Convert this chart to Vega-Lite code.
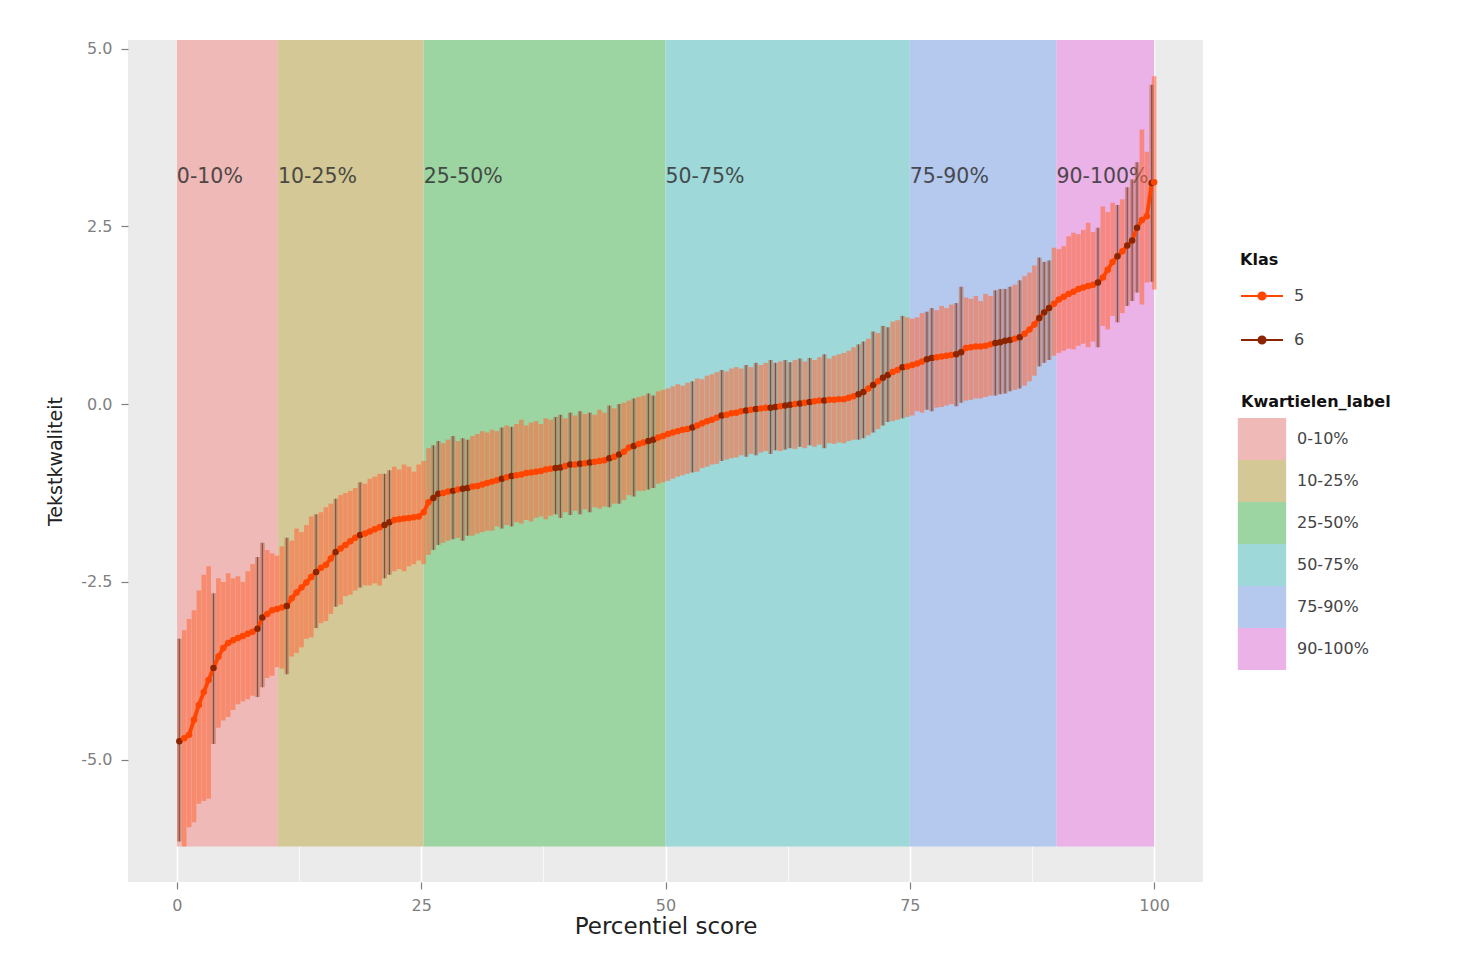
{
  "$schema": "https://vega.github.io/schema/vega-lite/v6.json",
  "width": 1075,
  "height": 842,
  "autosize": {"type": "none"},
  "padding": {"left": 128, "top": 40, "right": 260, "bottom": 73},
  "background": "white",
  "config": {
    "font": "DejaVu Sans",
    "view": {"fill": "#EBEBEB", "stroke": null}
  },
  "datasets": {
    "bands": [
      {"label": "0-10%", "s": 0, "e": 10.34},
      {"label": "10-25%", "s": 10.34, "e": 25.25},
      {"label": "25-50%", "s": 25.25, "e": 50},
      {"label": "50-75%", "s": 50, "e": 75},
      {"label": "75-90%", "s": 75, "e": 90},
      {"label": "90-100%", "s": 90, "e": 100}
    ],
    "pts": [
      {"p":0.25,"m":-4.74,"hi":-3.30,"lo":-6.15,"k":"6"},
      {"p":0.75,"m":-4.70,"hi":-3.18,"lo":-6.22,"k":"5"},
      {"p":1.25,"m":-4.65,"hi":-3.02,"lo":-5.95,"k":"5"},
      {"p":1.75,"m":-4.44,"hi":-2.90,"lo":-5.88,"k":"5"},
      {"p":2.25,"m":-4.23,"hi":-2.62,"lo":-5.62,"k":"5"},
      {"p":2.75,"m":-4.05,"hi":-2.40,"lo":-5.58,"k":"5"},
      {"p":3.25,"m":-3.88,"hi":-2.28,"lo":-5.55,"k":"5"},
      {"p":3.75,"m":-3.71,"hi":-2.66,"lo":-4.78,"k":"6"},
      {"p":4.25,"m":-3.55,"hi":-2.45,"lo":-4.55,"k":"5"},
      {"p":4.75,"m":-3.43,"hi":-2.50,"lo":-4.45,"k":"5"},
      {"p":5.25,"m":-3.36,"hi":-2.38,"lo":-4.40,"k":"5"},
      {"p":5.75,"m":-3.32,"hi":-2.45,"lo":-4.30,"k":"5"},
      {"p":6.25,"m":-3.29,"hi":-2.42,"lo":-4.22,"k":"5"},
      {"p":6.75,"m":-3.26,"hi":-2.50,"lo":-4.18,"k":"5"},
      {"p":7.25,"m":-3.23,"hi":-2.35,"lo":-4.15,"k":"5"},
      {"p":7.75,"m":-3.20,"hi":-2.25,"lo":-4.10,"k":"5"},
      {"p":8.25,"m":-3.16,"hi":-2.15,"lo":-4.12,"k":"6"},
      {"p":8.75,"m":-3.00,"hi":-1.95,"lo":-3.98,"k":"6"},
      {"p":9.25,"m":-2.95,"hi":-2.05,"lo":-3.85,"k":"5"},
      {"p":9.75,"m":-2.90,"hi":-2.10,"lo":-3.82,"k":"5"},
      {"p":10.25,"m":-2.88,"hi":-2.13,"lo":-3.70,"k":"5"},
      {"p":10.75,"m":-2.86,"hi":-2.00,"lo":-3.72,"k":"5"},
      {"p":11.25,"m":-2.84,"hi":-1.88,"lo":-3.80,"k":"6"},
      {"p":11.75,"m":-2.73,"hi":-1.92,"lo":-3.55,"k":"5"},
      {"p":12.25,"m":-2.65,"hi":-1.75,"lo":-3.50,"k":"5"},
      {"p":12.75,"m":-2.58,"hi":-1.80,"lo":-3.42,"k":"5"},
      {"p":13.25,"m":-2.51,"hi":-1.70,"lo":-3.30,"k":"5"},
      {"p":13.75,"m":-2.43,"hi":-1.58,"lo":-3.28,"k":"5"},
      {"p":14.25,"m":-2.36,"hi":-1.55,"lo":-3.15,"k":"6"},
      {"p":14.75,"m":-2.30,"hi":-1.52,"lo":-3.08,"k":"5"},
      {"p":15.25,"m":-2.26,"hi":-1.45,"lo":-3.05,"k":"5"},
      {"p":15.75,"m":-2.17,"hi":-1.40,"lo":-2.95,"k":"5"},
      {"p":16.25,"m":-2.08,"hi":-1.33,"lo":-2.85,"k":"6"},
      {"p":16.75,"m":-2.03,"hi":-1.28,"lo":-2.82,"k":"5"},
      {"p":17.25,"m":-1.98,"hi":-1.25,"lo":-2.70,"k":"5"},
      {"p":17.75,"m":-1.93,"hi":-1.22,"lo":-2.68,"k":"5"},
      {"p":18.25,"m":-1.88,"hi":-1.18,"lo":-2.62,"k":"5"},
      {"p":18.75,"m":-1.84,"hi":-1.10,"lo":-2.58,"k":"6"},
      {"p":19.25,"m":-1.82,"hi":-1.12,"lo":-2.55,"k":"5"},
      {"p":19.75,"m":-1.79,"hi":-1.05,"lo":-2.55,"k":"5"},
      {"p":20.25,"m":-1.76,"hi":-1.02,"lo":-2.52,"k":"5"},
      {"p":20.75,"m":-1.73,"hi":-0.98,"lo":-2.55,"k":"5"},
      {"p":21.25,"m":-1.70,"hi":-0.98,"lo":-2.45,"k":"6"},
      {"p":21.75,"m":-1.66,"hi":-0.93,"lo":-2.40,"k":"6"},
      {"p":22.25,"m":-1.63,"hi":-0.88,"lo":-2.35,"k":"5"},
      {"p":22.75,"m":-1.62,"hi":-0.92,"lo":-2.32,"k":"5"},
      {"p":23.25,"m":-1.61,"hi":-0.85,"lo":-2.35,"k":"5"},
      {"p":23.75,"m":-1.60,"hi":-0.88,"lo":-2.28,"k":"5"},
      {"p":24.25,"m":-1.59,"hi":-0.95,"lo":-2.25,"k":"5"},
      {"p":24.75,"m":-1.58,"hi":-0.85,"lo":-2.20,"k":"5"},
      {"p":25.25,"m":-1.52,"hi":-0.80,"lo":-2.25,"k":"5"},
      {"p":25.75,"m":-1.38,"hi":-0.62,"lo":-2.12,"k":"5"},
      {"p":26.25,"m":-1.32,"hi":-0.58,"lo":-2.05,"k":"6"},
      {"p":26.75,"m":-1.26,"hi":-0.52,"lo":-1.98,"k":"6"},
      {"p":27.25,"m":-1.25,"hi":-0.55,"lo":-1.95,"k":"5"},
      {"p":27.75,"m":-1.23,"hi":-0.50,"lo":-1.92,"k":"5"},
      {"p":28.25,"m":-1.22,"hi":-0.45,"lo":-1.90,"k":"6"},
      {"p":28.75,"m":-1.20,"hi":-0.52,"lo":-1.88,"k":"5"},
      {"p":29.25,"m":-1.19,"hi":-0.48,"lo":-1.92,"k":"6"},
      {"p":29.75,"m":-1.18,"hi":-0.50,"lo":-1.85,"k":"6"},
      {"p":30.25,"m":-1.16,"hi":-0.45,"lo":-1.85,"k":"5"},
      {"p":30.75,"m":-1.15,"hi":-0.42,"lo":-1.82,"k":"5"},
      {"p":31.25,"m":-1.13,"hi":-0.38,"lo":-1.80,"k":"5"},
      {"p":31.75,"m":-1.11,"hi":-0.40,"lo":-1.78,"k":"5"},
      {"p":32.25,"m":-1.09,"hi":-0.36,"lo":-1.78,"k":"5"},
      {"p":32.75,"m":-1.07,"hi":-0.38,"lo":-1.72,"k":"5"},
      {"p":33.25,"m":-1.05,"hi":-0.33,"lo":-1.75,"k":"6"},
      {"p":33.75,"m":-1.03,"hi":-0.30,"lo":-1.70,"k":"5"},
      {"p":34.25,"m":-1.01,"hi":-0.32,"lo":-1.72,"k":"6"},
      {"p":34.75,"m":-1.00,"hi":-0.28,"lo":-1.66,"k":"5"},
      {"p":35.25,"m":-0.99,"hi":-0.22,"lo":-1.68,"k":"5"},
      {"p":35.75,"m":-0.97,"hi":-0.30,"lo":-1.63,"k":"5"},
      {"p":36.25,"m":-0.96,"hi":-0.26,"lo":-1.65,"k":"5"},
      {"p":36.75,"m":-0.95,"hi":-0.24,"lo":-1.60,"k":"5"},
      {"p":37.25,"m":-0.94,"hi":-0.28,"lo":-1.58,"k":"5"},
      {"p":37.75,"m":-0.92,"hi":-0.20,"lo":-1.62,"k":"5"},
      {"p":38.25,"m":-0.91,"hi":-0.22,"lo":-1.57,"k":"5"},
      {"p":38.75,"m":-0.90,"hi":-0.18,"lo":-1.55,"k":"6"},
      {"p":39.25,"m":-0.89,"hi":-0.15,"lo":-1.60,"k":"6"},
      {"p":39.75,"m":-0.87,"hi":-0.20,"lo":-1.52,"k":"5"},
      {"p":40.25,"m":-0.85,"hi":-0.12,"lo":-1.56,"k":"6"},
      {"p":40.75,"m":-0.85,"hi":-0.16,"lo":-1.50,"k":"5"},
      {"p":41.25,"m":-0.84,"hi":-0.10,"lo":-1.55,"k":"6"},
      {"p":41.75,"m":-0.83,"hi":-0.14,"lo":-1.48,"k":"5"},
      {"p":42.25,"m":-0.82,"hi":-0.12,"lo":-1.52,"k":"6"},
      {"p":42.75,"m":-0.81,"hi":-0.15,"lo":-1.45,"k":"5"},
      {"p":43.25,"m":-0.80,"hi":-0.08,"lo":-1.47,"k":"5"},
      {"p":43.75,"m":-0.79,"hi":-0.12,"lo":-1.44,"k":"5"},
      {"p":44.25,"m":-0.76,"hi":-0.02,"lo":-1.45,"k":"6"},
      {"p":44.75,"m":-0.74,"hi":-0.06,"lo":-1.40,"k":"5"},
      {"p":45.25,"m":-0.71,"hi":0.00,"lo":-1.40,"k":"6"},
      {"p":45.75,"m":-0.67,"hi":0.02,"lo":-1.35,"k":"5"},
      {"p":46.25,"m":-0.61,"hi":0.05,"lo":-1.28,"k":"5"},
      {"p":46.75,"m":-0.59,"hi":0.08,"lo":-1.30,"k":"6"},
      {"p":47.25,"m":-0.56,"hi":0.10,"lo":-1.22,"k":"5"},
      {"p":47.75,"m":-0.54,"hi":0.12,"lo":-1.22,"k":"5"},
      {"p":48.25,"m":-0.52,"hi":0.15,"lo":-1.20,"k":"6"},
      {"p":48.75,"m":-0.50,"hi":0.12,"lo":-1.18,"k":"6"},
      {"p":49.25,"m":-0.47,"hi":0.18,"lo":-1.12,"k":"5"},
      {"p":49.75,"m":-0.45,"hi":0.20,"lo":-1.10,"k":"5"},
      {"p":50.25,"m":-0.42,"hi":0.22,"lo":-1.08,"k":"5"},
      {"p":50.75,"m":-0.40,"hi":0.25,"lo":-1.05,"k":"5"},
      {"p":51.25,"m":-0.38,"hi":0.28,"lo":-1.02,"k":"5"},
      {"p":51.75,"m":-0.36,"hi":0.26,"lo":-1.00,"k":"5"},
      {"p":52.25,"m":-0.35,"hi":0.30,"lo":-0.98,"k":"5"},
      {"p":52.75,"m":-0.33,"hi":0.32,"lo":-0.96,"k":"6"},
      {"p":53.25,"m":-0.30,"hi":0.36,"lo":-0.95,"k":"5"},
      {"p":53.75,"m":-0.27,"hi":0.35,"lo":-0.90,"k":"5"},
      {"p":54.25,"m":-0.24,"hi":0.40,"lo":-0.88,"k":"5"},
      {"p":54.75,"m":-0.22,"hi":0.42,"lo":-0.85,"k":"5"},
      {"p":55.25,"m":-0.19,"hi":0.45,"lo":-0.84,"k":"5"},
      {"p":55.75,"m":-0.16,"hi":0.48,"lo":-0.80,"k":"6"},
      {"p":56.25,"m":-0.15,"hi":0.46,"lo":-0.78,"k":"5"},
      {"p":56.75,"m":-0.13,"hi":0.50,"lo":-0.76,"k":"5"},
      {"p":57.25,"m":-0.12,"hi":0.52,"lo":-0.75,"k":"5"},
      {"p":57.75,"m":-0.10,"hi":0.50,"lo":-0.72,"k":"5"},
      {"p":58.25,"m":-0.09,"hi":0.55,"lo":-0.74,"k":"6"},
      {"p":58.75,"m":-0.08,"hi":0.52,"lo":-0.70,"k":"5"},
      {"p":59.25,"m":-0.07,"hi":0.58,"lo":-0.72,"k":"6"},
      {"p":59.75,"m":-0.06,"hi":0.55,"lo":-0.68,"k":"5"},
      {"p":60.25,"m":-0.05,"hi":0.58,"lo":-0.66,"k":"5"},
      {"p":60.75,"m":-0.05,"hi":0.62,"lo":-0.70,"k":"6"},
      {"p":61.25,"m":-0.04,"hi":0.58,"lo":-0.65,"k":"6"},
      {"p":61.75,"m":-0.03,"hi":0.60,"lo":-0.66,"k":"5"},
      {"p":62.25,"m":-0.02,"hi":0.62,"lo":-0.64,"k":"6"},
      {"p":62.75,"m":-0.01,"hi":0.59,"lo":-0.62,"k":"6"},
      {"p":63.25,"m":0.00,"hi":0.62,"lo":-0.63,"k":"5"},
      {"p":63.75,"m":0.01,"hi":0.64,"lo":-0.60,"k":"6"},
      {"p":64.25,"m":0.02,"hi":0.60,"lo":-0.62,"k":"5"},
      {"p":64.75,"m":0.03,"hi":0.65,"lo":-0.58,"k":"6"},
      {"p":65.25,"m":0.04,"hi":0.62,"lo":-0.60,"k":"5"},
      {"p":65.75,"m":0.05,"hi":0.66,"lo":-0.57,"k":"5"},
      {"p":66.25,"m":0.05,"hi":0.70,"lo":-0.62,"k":"6"},
      {"p":66.75,"m":0.06,"hi":0.64,"lo":-0.55,"k":"5"},
      {"p":67.25,"m":0.06,"hi":0.68,"lo":-0.56,"k":"5"},
      {"p":67.75,"m":0.07,"hi":0.70,"lo":-0.54,"k":"5"},
      {"p":68.25,"m":0.07,"hi":0.72,"lo":-0.55,"k":"5"},
      {"p":68.75,"m":0.09,"hi":0.75,"lo":-0.52,"k":"5"},
      {"p":69.25,"m":0.11,"hi":0.80,"lo":-0.50,"k":"5"},
      {"p":69.75,"m":0.14,"hi":0.84,"lo":-0.50,"k":"6"},
      {"p":70.25,"m":0.17,"hi":0.88,"lo":-0.48,"k":"6"},
      {"p":70.75,"m":0.22,"hi":0.92,"lo":-0.44,"k":"5"},
      {"p":71.25,"m":0.27,"hi":1.02,"lo":-0.40,"k":"6"},
      {"p":71.75,"m":0.32,"hi":1.00,"lo":-0.35,"k":"5"},
      {"p":72.25,"m":0.37,"hi":1.10,"lo":-0.30,"k":"6"},
      {"p":72.75,"m":0.41,"hi":1.08,"lo":-0.25,"k":"6"},
      {"p":73.25,"m":0.45,"hi":1.16,"lo":-0.24,"k":"5"},
      {"p":73.75,"m":0.48,"hi":1.18,"lo":-0.22,"k":"5"},
      {"p":74.25,"m":0.52,"hi":1.24,"lo":-0.20,"k":"6"},
      {"p":74.75,"m":0.53,"hi":1.22,"lo":-0.18,"k":"5"},
      {"p":75.25,"m":0.55,"hi":1.20,"lo":-0.16,"k":"5"},
      {"p":75.75,"m":0.57,"hi":1.22,"lo":-0.10,"k":"5"},
      {"p":76.25,"m":0.60,"hi":1.28,"lo":-0.12,"k":"5"},
      {"p":76.75,"m":0.63,"hi":1.30,"lo":-0.08,"k":"6"},
      {"p":77.25,"m":0.65,"hi":1.35,"lo":-0.10,"k":"6"},
      {"p":77.75,"m":0.66,"hi":1.32,"lo":-0.05,"k":"5"},
      {"p":78.25,"m":0.67,"hi":1.38,"lo":-0.04,"k":"5"},
      {"p":78.75,"m":0.68,"hi":1.35,"lo":-0.02,"k":"5"},
      {"p":79.25,"m":0.69,"hi":1.40,"lo":0.00,"k":"5"},
      {"p":79.75,"m":0.70,"hi":1.42,"lo":-0.03,"k":"6"},
      {"p":80.25,"m":0.73,"hi":1.65,"lo":0.02,"k":"6"},
      {"p":80.75,"m":0.79,"hi":1.50,"lo":0.05,"k":"5"},
      {"p":81.25,"m":0.80,"hi":1.48,"lo":0.06,"k":"5"},
      {"p":81.75,"m":0.81,"hi":1.52,"lo":0.08,"k":"5"},
      {"p":82.25,"m":0.81,"hi":1.45,"lo":0.08,"k":"5"},
      {"p":82.75,"m":0.82,"hi":1.55,"lo":0.10,"k":"5"},
      {"p":83.25,"m":0.84,"hi":1.52,"lo":0.12,"k":"5"},
      {"p":83.75,"m":0.86,"hi":1.60,"lo":0.12,"k":"6"},
      {"p":84.25,"m":0.87,"hi":1.62,"lo":0.14,"k":"6"},
      {"p":84.75,"m":0.89,"hi":1.62,"lo":0.15,"k":"6"},
      {"p":85.25,"m":0.90,"hi":1.65,"lo":0.18,"k":"6"},
      {"p":85.75,"m":0.92,"hi":1.68,"lo":0.20,"k":"5"},
      {"p":86.25,"m":0.94,"hi":1.74,"lo":0.22,"k":"6"},
      {"p":86.75,"m":0.99,"hi":1.80,"lo":0.26,"k":"5"},
      {"p":87.25,"m":1.05,"hi":1.85,"lo":0.32,"k":"5"},
      {"p":87.75,"m":1.12,"hi":1.95,"lo":0.40,"k":"5"},
      {"p":88.25,"m":1.21,"hi":2.06,"lo":0.53,"k":"6"},
      {"p":88.75,"m":1.29,"hi":2.00,"lo":0.58,"k":"6"},
      {"p":89.25,"m":1.35,"hi":2.02,"lo":0.62,"k":"6"},
      {"p":89.75,"m":1.41,"hi":2.20,"lo":0.68,"k":"5"},
      {"p":90.25,"m":1.47,"hi":2.18,"lo":0.72,"k":"5"},
      {"p":90.75,"m":1.51,"hi":2.22,"lo":0.75,"k":"5"},
      {"p":91.25,"m":1.55,"hi":2.36,"lo":0.78,"k":"5"},
      {"p":91.75,"m":1.58,"hi":2.41,"lo":0.77,"k":"5"},
      {"p":92.25,"m":1.62,"hi":2.39,"lo":0.82,"k":"5"},
      {"p":92.75,"m":1.64,"hi":2.45,"lo":0.85,"k":"5"},
      {"p":93.25,"m":1.66,"hi":2.55,"lo":0.80,"k":"5"},
      {"p":93.75,"m":1.68,"hi":2.42,"lo":0.88,"k":"5"},
      {"p":94.25,"m":1.71,"hi":2.48,"lo":0.80,"k":"6"},
      {"p":94.75,"m":1.78,"hi":2.78,"lo":1.10,"k":"5"},
      {"p":95.25,"m":1.89,"hi":2.70,"lo":1.05,"k":"5"},
      {"p":95.75,"m":2.00,"hi":2.83,"lo":1.24,"k":"5"},
      {"p":96.25,"m":2.08,"hi":2.80,"lo":1.15,"k":"6"},
      {"p":96.75,"m":2.15,"hi":2.88,"lo":1.28,"k":"5"},
      {"p":97.25,"m":2.23,"hi":3.05,"lo":1.38,"k":"6"},
      {"p":97.75,"m":2.30,"hi":3.16,"lo":1.45,"k":"6"},
      {"p":98.25,"m":2.48,"hi":3.40,"lo":1.57,"k":"6"},
      {"p":98.75,"m":2.59,"hi":3.86,"lo":1.40,"k":"5"},
      {"p":99.25,"m":2.64,"hi":3.55,"lo":1.71,"k":"5"},
      {"p":99.75,"m":3.11,"hi":4.49,"lo":1.72,"k":"6"},
      {"p":100,"m":3.12,"hi":4.61,"lo":1.61,"k":"5"}
    ]
  },
  "layer": [
    {
      "data": {"name": "bands"},
      "mark": {"type": "rect"},
      "encoding": {
        "x": {
          "field": "s", "type": "quantitative", "title": "Percentiel score",
          "scale": {"domain": [-5, 105], "nice": false, "zero": false},
          "axis": {
            "values": [0, 12.5, 25, 37.5, 50, 62.5, 75, 87.5, 100],
            "labelExpr": "datum.value % 25 === 0 ? format(datum.value, 'd') : ''",
            "domain": false,
            "gridColor": "white",
            "gridWidth": {"condition": {"test": "datum.value % 25 === 0", "value": 1.6}, "value": 0.7},
            "tickOpacity": {"condition": {"test": "datum.value % 25 === 0", "value": 1}, "value": 0},
            "tickColor": "#7f7f7f", "tickSize": 7, "tickWidth": 1.2,
            "labelColor": "#7f7f7f", "labelFontSize": 16, "labelPadding": 8,
            "labelOverlap": false, "labelFlush": false,
            "titleColor": "#222222", "titleFontSize": 23, "titleFontWeight": "normal", "titlePadding": 2
          }
        },
        "x2": {"field": "e"},
        "y": {
          "datum": -6.22, "type": "quantitative", "title": "Tekstkwaliteit",
          "scale": {"domain": [-6.72, 5.12], "nice": false, "zero": false},
          "axis": {
            "values": [-6.25, -5, -3.75, -2.5, -1.25, 0, 1.25, 2.5, 3.75, 5],
            "labelExpr": "datum.value % 2.5 === 0 ? replace(format(datum.value, '.1f'), '\u2212', '-') : ''",
            "domain": false,
            "gridColor": "white",
            "gridWidth": {"condition": {"test": "datum.value % 2.5 === 0", "value": 1.6}, "value": 0.7},
            "tickOpacity": {"condition": {"test": "datum.value % 2.5 === 0", "value": 1}, "value": 0},
            "tickColor": "#7f7f7f", "tickSize": 7, "tickWidth": 1.2,
            "labelColor": "#7f7f7f", "labelFontSize": 16, "labelPadding": 9,
            "labelOverlap": false, "labelFlush": false,
            "titleColor": "#222222", "titleFontSize": 19, "titleFontWeight": "normal", "titlePadding": 15
          }
        },
        "y2": {"datum": 5.12},
        "fill": {
          "field": "label", "type": "nominal",
          "scale": {
            "domain": ["0-10%", "10-25%", "25-50%", "50-75%", "75-90%", "90-100%"],
            "range": ["#EEB9B7", "#D4C896", "#9CD4A2", "#9ED8D8", "#B5C8EE", "#EAB2E6"]
          },
          "legend": {
            "orient": "none", "legendX": 1113, "legendY": 354,
            "title": "Kwartielen_label",
            "titleFontSize": 16, "titleFontWeight": "bold", "titleColor": "#111111", "titlePadding": 8,
            "labelFontSize": 16, "labelColor": "#444444", "labelOffset": 14,
            "symbolType": "M-1.15,-1H1.15V1H-1.15Z", "symbolSize": 1764,
            "symbolStrokeWidth": 0, "symbolOpacity": 1, "rowPadding": 0
          }
        }
      }
    },
    {
      "data": {"name": "bands"},
      "mark": {"type": "text", "align": "left", "baseline": "middle", "dx": 0, "fontSize": 20.5, "color": "#333333", "opacity": 0.85},
      "encoding": {
        "x": {"field": "s", "type": "quantitative", "title": "Percentiel score"},
        "y": {"datum": 3.19, "type": "quantitative", "title": "Tekstkwaliteit"},
        "text": {"field": "label"}
      }
    },
    {
      "data": {"name": "pts"},
      "transform": [{"filter": "datum.k === '5'"}],
      "mark": {"type": "rule", "strokeWidth": 4.6, "opacity": 0.6, "color": "#FF6A3D"},
      "encoding": {
        "x": {"field": "p", "type": "quantitative", "title": "Percentiel score"},
        "y": {"field": "lo", "type": "quantitative", "title": "Tekstkwaliteit"},
        "y2": {"field": "hi"}
      }
    },
    {
      "data": {"name": "pts"},
      "transform": [{"filter": "datum.k === '6'"}],
      "mark": {"type": "rule", "strokeWidth": 4.6, "opacity": 0.55, "color": "#B86A50"},
      "encoding": {
        "x": {"field": "p", "type": "quantitative", "title": "Percentiel score"},
        "y": {"field": "lo", "type": "quantitative", "title": "Tekstkwaliteit"},
        "y2": {"field": "hi"}
      }
    },
    {
      "data": {"name": "pts"},
      "transform": [{"filter": "datum.k === '6'"}],
      "mark": {"type": "rule", "strokeWidth": 1.1, "color": "#5A2010", "opacity": 0.6},
      "encoding": {
        "x": {"field": "p", "type": "quantitative", "title": "Percentiel score"},
        "y": {"field": "lo", "type": "quantitative", "title": "Tekstkwaliteit"},
        "y2": {"field": "hi"}
      }
    },
    {
      "data": {"name": "pts"},
      "mark": {"type": "line", "strokeWidth": 3.8, "color": "#FF4500"},
      "encoding": {
        "x": {"field": "p", "type": "quantitative", "title": "Percentiel score"},
        "y": {"field": "m", "type": "quantitative", "title": "Tekstkwaliteit"}
      }
    },
    {
      "data": {"name": "pts"},
      "mark": {"type": "point", "filled": true, "size": 42, "opacity": 1},
      "encoding": {
        "x": {"field": "p", "type": "quantitative", "title": "Percentiel score"},
        "y": {"field": "m", "type": "quantitative", "title": "Tekstkwaliteit"},
        "color": {
          "field": "k", "type": "nominal",
          "scale": {"domain": ["5", "6"], "range": ["#FF4500", "#8B2500"]},
          "legend": {
            "orient": "none", "legendX": 1112, "legendY": 212,
            "title": "Klas",
            "titleFontSize": 16, "titleFontWeight": "bold", "titleColor": "#111111", "titlePadding": 6,
            "labelFontSize": 16, "labelColor": "#444444", "labelOffset": 10,
            "symbolType": "M-1,0H1M-0.17,0A0.17,0.17,0,1,0,0.17,0A0.17,0.17,0,1,0,-0.17,0Z",
            "symbolSize": 1764, "symbolStrokeWidth": 2, "symbolOpacity": 1, "rowPadding": 14,
            "encode": {"symbols": {"update": {"stroke": {"scale": "color", "field": "value"}, "strokeWidth": {"value": 2}}}}
          }
        }
      }
    }
  ]
}
